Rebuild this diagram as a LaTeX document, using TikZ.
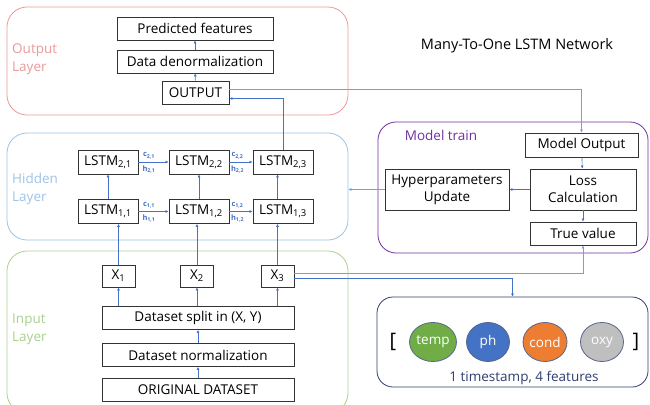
\documentclass[tikz,border=0pt]{standalone}
\usepackage{fontspec}
\setmainfont{Open Sans}
\usepackage{tikz}
\usetikzlibrary{calc,shapes,arrows.meta}

\definecolor{outred}{RGB}{234,153,153}
\definecolor{hidblue}{RGB}{157,195,230}
\definecolor{ingreen}{RGB}{169,209,142}
\definecolor{trainpurple}{RGB}{112,48,160}
\definecolor{linkblue}{RGB}{68,114,196}
\definecolor{linklight}{RGB}{122,158,220}
\definecolor{navy}{RGB}{47,62,110}
\definecolor{ftgreen}{RGB}{112,173,71}
\definecolor{ftblue}{RGB}{68,114,196}
\definecolor{ftorange}{RGB}{237,125,49}
\definecolor{ftgray}{RGB}{191,191,191}

\begin{document}
\begin{tikzpicture}[x=1pt,y=-1pt,>={Latex[length=3pt,width=3pt]},
font=\fontsize{13.5}{17}\selectfont,
layer/.style={rectangle,rounded corners=20pt,line width=0.8pt},
laylab/.style={align=left,anchor=west,font=\fontsize{13.5}{18}\selectfont,inner sep=0pt},
blk/.style={rectangle,draw=black!80,line width=0.9pt,fill=white,inner sep=1pt,align=center},
lstm/.style={blk,minimum width=60pt,minimum height=24pt},
xin/.style={blk,minimum width=33pt,minimum height=22pt},
wide/.style={blk,minimum width=192pt,minimum height=23pt},
link/.style={->,linkblue,line width=0.6pt},
lightlink/.style={->,linklight,line width=0.8pt},
state/.style={font=\fontsize{7.5}{8}\selectfont\bfseries,text=linkblue,inner sep=1pt},
feat/.style={ellipse,draw=navy!80,line width=0.8pt,minimum width=43pt,minimum height=39pt,text=white,inner sep=0pt}]
	\useasboundingbox (0,0) rectangle (650,404);
	\clip (0,0) rectangle (650,404);

	%layers
	\node[layer,draw=outred,minimum width=341pt,minimum height=108pt] (outlay) at (177.5,61) {};
	\node[layer,draw=hidblue,minimum width=341pt,minimum height=107pt] (hidlay) at (177.5,186.5) {};
	\node[layer,draw=ingreen,minimum width=341pt,minimum height=162pt] (inlay) at (177.5,332) {};
	\node[laylab,text=outred] (outlab) at (12,59) {Output\\Layer};
	\node[laylab,text=hidblue] (hidlab) at (12,189) {Hidden\\Layer};
	\node[laylab,text=ingreen] (inlab) at (12,329) {Input\\Layer};

	\node[font=\fontsize{14.5}{17}\selectfont] (title) at (517,46) {Many-To-One LSTM Network};

	%output layer
	\node[blk,minimum width=156pt,minimum height=23pt] (pred) at (195,28.5) {Predicted features};
	\node[blk,minimum width=156pt,minimum height=23pt] (dnorm) at (195,61.5) {Data denormalization};
	\node[blk,minimum width=67pt,minimum height=23pt] (out) at (195.5,92.5) {OUTPUT};

	%hidden layer
	\node[lstm] (l21) at (108,162) {LSTM\textsubscript{2,1}};
	\node[lstm] (l22) at (199,162) {LSTM\textsubscript{2,2}};
	\node[lstm] (l23) at (283,162) {LSTM\textsubscript{2,3}};
	\node[lstm] (l11) at (108,211.5) {LSTM\textsubscript{1,1}};
	\node[lstm] (l12) at (199,211.5) {LSTM\textsubscript{1,2}};
	\node[lstm] (l13) at (283,211.5) {LSTM\textsubscript{1,3}};

	%input layer
	\node[xin] (x1) at (118.5,276) {X\textsubscript{1}};
	\node[xin] (x2) at (197,276) {X\textsubscript{2}};
	\node[xin] (x3) at (277.5,276) {X\textsubscript{3}};
	\node[wide] (split) at (198,318) {Dataset split in (X, Y)};
	\node[wide] (norm) at (198,355) {Dataset normalization};
	\node[wide] (orig) at (198,390) {ORIGINAL DATASET};

	%model train
	\node[layer,rounded corners=18pt,draw=trainpurple,minimum width=270pt,minimum height=131pt] (train) at (513,187.5) {};
	\node[text=trainpurple] (trainlab) at (441,135) {Model train};
	\node[blk,minimum width=113pt,minimum height=24pt] (mout) at (581.5,145) {Model Output};
	\node[blk,minimum width=106pt,minimum height=41pt] (loss) at (583,189.5) {Loss\\Calculation};
	\node[blk,minimum width=124pt,minimum height=41pt] (hyper) at (447,189.5) {Hyperparameters\\Update};
	\node[blk,minimum width=106pt,minimum height=23pt] (tval) at (583,233.5) {True value};

	%features
	\node[layer,rounded corners=16pt,draw=navy,minimum width=271pt,minimum height=90pt] (feats) at (512.5,342) {};
	\node[font=\fontsize{20}{20}\selectfont] (lbr) at (393,342) {[};
	\node[feat,fill=ftgreen] (temp) at (433,342) {temp};
	\node[feat,fill=ftblue] (ph) at (488,342) {ph};
	\node[feat,fill=ftorange] (cond) at (545,342) {cond};
	\node[feat,fill=ftgray] (oxy) at (602,342) {oxy};
	\node[font=\fontsize{20}{20}\selectfont] (rbr) at (636,342) {]};
	\node[text=navy] (ftcap) at (524,378) {1 timestamp, 4 features};

	%input flow
	\draw[link] (orig) -- (norm);
	\draw[link] (norm) -- (split);
	\draw[link] (x1.south |- split.north) -- (x1.south);
	\draw[link] (x2.south |- split.north) -- (x2.south);
	\draw[link] (x3.south |- split.north) -- (x3.south);
	\draw[link] (x1.north) -- (x1.north |- l11.south);
	\draw[link] (x2.north) -- (x2.north |- l12.south);
	\draw[link] (x3.north) -- (x3.north |- l13.south);

	%lstm cells
	\draw[link] (l11) -- (l21);
	\draw[link] (l12) -- (l22);
	\draw[link] (x3.north |- l13.north) -- (x3.north |- l23.south);
	\draw[link] (l11) -- node[state,above=2pt,pos=0.35] {c\textsubscript{1,1}} node[state,below=2pt,pos=0.35] {h\textsubscript{1,1}} (l12);
	\draw[link] (l12) -- node[state,above=2pt,pos=0.35] {c\textsubscript{1,2}} node[state,below=2pt,pos=0.35] {h\textsubscript{1,2}} (l13);
	\draw[link] (l21) -- node[state,above=2pt,pos=0.35] {c\textsubscript{2,1}} node[state,below=2pt,pos=0.35] {h\textsubscript{2,1}} (l22);
	\draw[link] (l22) -- node[state,above=2pt,pos=0.35] {c\textsubscript{2,2}} node[state,below=2pt,pos=0.35] {h\textsubscript{2,2}} (l23);

	%output flow
	\draw[link] (l23.north) |- ([yshift=-6pt]out.east);
	\draw[link] (out) -- (dnorm);
	\draw[link] (dnorm) -- (pred);

	%training loop
	\draw[lightlink] ([yshift=3pt]out.east) -| (mout.north);
	\draw[link] (mout) -- (loss);
	\draw[link] (loss) -- (tval);
	\draw[link] (loss) -- (hyper);
	\draw[lightlink] (hyper.west) -- (hyper.west -| hidlay.east);
	\draw[lightlink] ([yshift=3pt]x3.east) -| (tval.south);
	\draw[link] ([yshift=-2pt]x3.east) -| (feats.north);
\end{tikzpicture}
\end{document}
